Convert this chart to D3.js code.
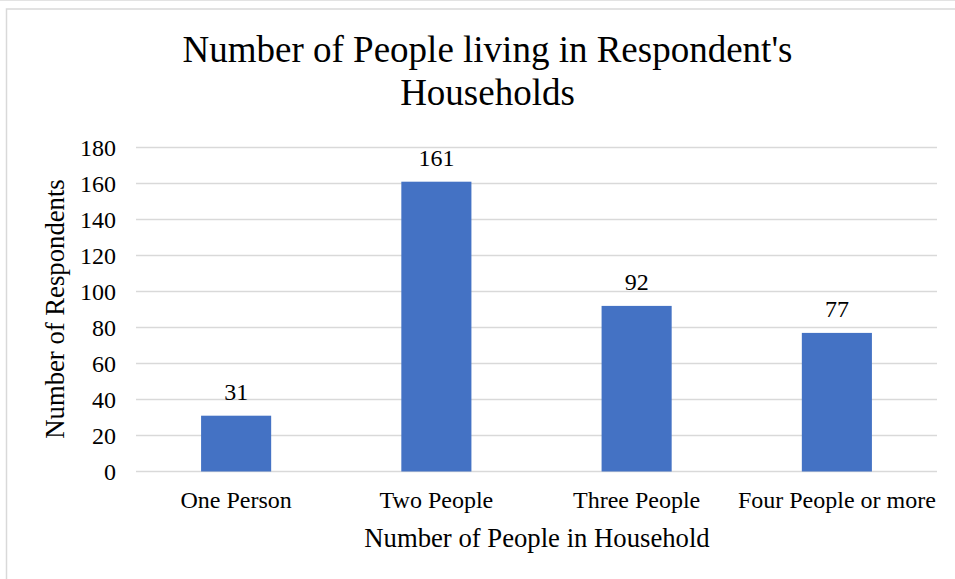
<!DOCTYPE html>
<html>
<head>
<meta charset="utf-8">
<script src="https://cdn.jsdelivr.net/npm/d3@7"></script>
<style>
  html, body { margin: 0; padding: 0; background: #fff; }
  svg { display: block; }
  text { font-family: "Liberation Serif", "Times New Roman", serif; fill: #000; }
</style>
</head>
<body>
<svg id="chart" width="955" height="579"></svg>
<script>
// Household size survey results
const categories = ["One Person", "Two People", "Three People", "Four People or more"];
const respondents = [31, 161, 92, 77];
const yTicks = [0, 20, 40, 60, 80, 100, 120, 140, 160, 180];
const titleLines = ["Number of People living in Respondent's", "Households"];
const xTitle = "Number of People in Household";
const yTitle = "Number of Respondents";

const svg = d3.select("#chart");
const W = 955, H = 579;
const plot = { left: 136, right: 937, top: 147.5, bottom: 471.5 };

// Chart frame
svg.append("line").attr("x1", 0).attr("x2", W).attr("y1", 0.5).attr("y2", 0.5)
  .attr("stroke", "#e3e3e3").attr("stroke-width", 1);
svg.append("rect").attr("x", 6.5).attr("y", 9).attr("width", W + 10).attr("height", H + 10)
  .attr("fill", "#fff").attr("stroke", "#d9d9d9").attr("stroke-width", 1.5);

const x = d3.scaleBand().domain(categories).range([plot.left, plot.right]).padding(0);
const y = d3.scaleLinear().domain([0, 180]).range([plot.bottom, plot.top]);
const barW = x.bandwidth() * 0.35;

// Gridlines
svg.append("g").selectAll("line").data(yTicks).join("line")
  .attr("x1", plot.left).attr("x2", plot.right)
  .attr("y1", d => y(d)).attr("y2", d => y(d))
  .attr("stroke", "#d9d9d9").attr("stroke-width", 1.3);

// Y axis labels
const yAxis = svg.append("g").attr("transform", `translate(${plot.left - 20},0)`)
  .call(d3.axisLeft(y).tickValues(yTicks).tickSize(0).tickPadding(0));
yAxis.select(".domain").remove();
yAxis.selectAll("text").attr("font-size", 24).attr("font-family", "Liberation Serif")
  .attr("fill", "#000").attr("dy", "0.33em");

// Bars
svg.append("g").selectAll("rect").data(respondents).join("rect")
  .attr("x", (d, i) => x(categories[i]) + x.bandwidth() / 2 - barW / 2)
  .attr("width", barW)
  .attr("y", d => y(d))
  .attr("height", d => y(0) - y(d))
  .attr("fill", "#4472c4");

// Value labels
svg.append("g").selectAll("text").data(respondents).join("text")
  .attr("x", (d, i) => x(categories[i]) + x.bandwidth() / 2)
  .attr("y", d => y(d) - 16)
  .attr("text-anchor", "middle").attr("font-size", 24)
  .text(d => d);

// X axis category labels
const xAxis = svg.append("g").attr("transform", `translate(0,${plot.bottom})`)
  .call(d3.axisBottom(x).tickSize(0).tickPadding(0));
xAxis.select(".domain").remove();
xAxis.selectAll("text").attr("font-size", 24).attr("font-family", "Liberation Serif")
  .attr("fill", "#000").attr("dy", null).attr("y", 36.5);

// Axis titles
svg.append("text").attr("x", 537).attr("y", 547).attr("text-anchor", "middle")
  .attr("font-size", 26.7).text(xTitle);
svg.append("text").attr("transform", "translate(64,309) rotate(-90)")
  .attr("text-anchor", "middle").attr("font-size", 26.7).text(yTitle);

// Chart title
svg.append("g").selectAll("text").data(titleLines).join("text")
  .attr("x", 487.5).attr("y", (d, i) => 62 + i * 42.5)
  .attr("text-anchor", "middle").attr("font-size", 37)
  .text(d => d);
</script>
</body>
</html>
